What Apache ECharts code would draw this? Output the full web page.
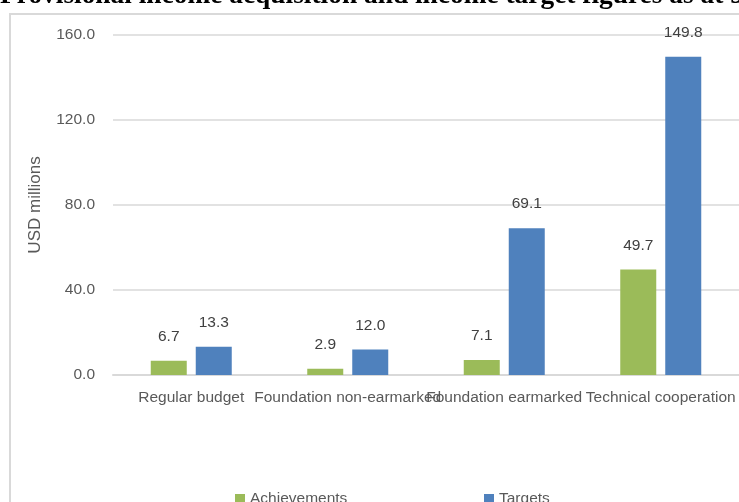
<!DOCTYPE html>
<html>
<head>
<meta charset="utf-8">
<script src="https://cdn.jsdelivr.net/npm/echarts@6/dist/echarts.min.js"></script>
<style>
html,body{margin:0;padding:0;background:#fff;}
#chart{width:739px;height:502px;}
</style>
</head>
<body>
<div id="chart"></div>
<script>
const titleText = 'Provisional income acquisition and income target figures as at 31 December';
const categories = ['Regular budget', 'Foundation non-earmarked', 'Foundation earmarked', 'Technical cooperation'];
const achievements = [6.7, 2.9, 7.1, 49.7];
const targets = [13.3, 12.0, 69.1, 149.8];
const yTicks = [0, 40, 80, 120, 160];
const yName = 'USD millions';

const FONT = '"Liberation Sans", Arial, sans-serif';
const chart = echarts.init(document.getElementById('chart'));
chart.setOption({
  animation: false,
  backgroundColor: '#fff',
  graphic: [
    { type: 'rect', shape: { x: 10, y: 14, width: 800, height: 600 }, style: { fill: 'none', stroke: '#d9d9d9', lineWidth: 2 }, z: -1 },
    { type: 'text', x: 0, y: 9.5, style: { text: titleText, font: 'bold 27.4px "Liberation Serif", "Times New Roman", serif', fill: '#000', textVerticalAlign: 'bottom' } }
  ],
  grid: { left: 113, right: -2, top: 35, bottom: 127 },
  legend: [
    { data: ['Achievements'], left: 230, top: 486, itemWidth: 10, itemHeight: 10, itemGap: 4, icon: 'rect', textStyle: { fontFamily: FONT, fontSize: 15.5, color: '#595959' } },
    { data: ['Targets'], left: 479, top: 486, itemWidth: 10, itemHeight: 10, itemGap: 4, icon: 'rect', textStyle: { fontFamily: FONT, fontSize: 15.5, color: '#595959' } }
  ],
  xAxis: {
    type: 'category',
    data: categories,
    axisLine: { lineStyle: { color: '#d9d9d9', width: 2 } },
    axisTick: { show: false },
    axisLabel: { interval: 0, margin: 15, fontFamily: FONT, fontSize: 15.5, color: '#595959' }
  },
  yAxis: {
    type: 'value',
    min: yTicks[0],
    max: yTicks[yTicks.length - 1],
    interval: yTicks[1] - yTicks[0],
    name: yName,
    nameLocation: 'middle',
    nameRotate: 90,
    nameGap: 69,
    nameTextStyle: { fontFamily: FONT, fontSize: 17, color: '#595959' },
    axisLine: { show: false },
    axisTick: { show: false },
    axisLabel: { margin: 18, fontFamily: FONT, fontSize: 15.5, color: '#595959', formatter: v => v.toFixed(1) },
    splitLine: { lineStyle: { color: '#d9d9d9', width: 1.5 } }
  },
  series: [
    { name: 'Achievements', type: 'bar', data: achievements, barWidth: 36, barGap: '25%', itemStyle: { color: '#9bbb59' },
      label: { show: true, position: 'top', distance: 16, fontFamily: FONT, fontSize: 15.5, color: '#404040', formatter: p => p.value.toFixed(1) } },
    { name: 'Targets', type: 'bar', data: targets, barWidth: 36, barGap: '25%', itemStyle: { color: '#4f81bd' },
      label: { show: true, position: 'top', distance: 16, fontFamily: FONT, fontSize: 15.5, color: '#404040', formatter: p => p.value.toFixed(1) } }
  ]
});
</script>
</body>
</html>
